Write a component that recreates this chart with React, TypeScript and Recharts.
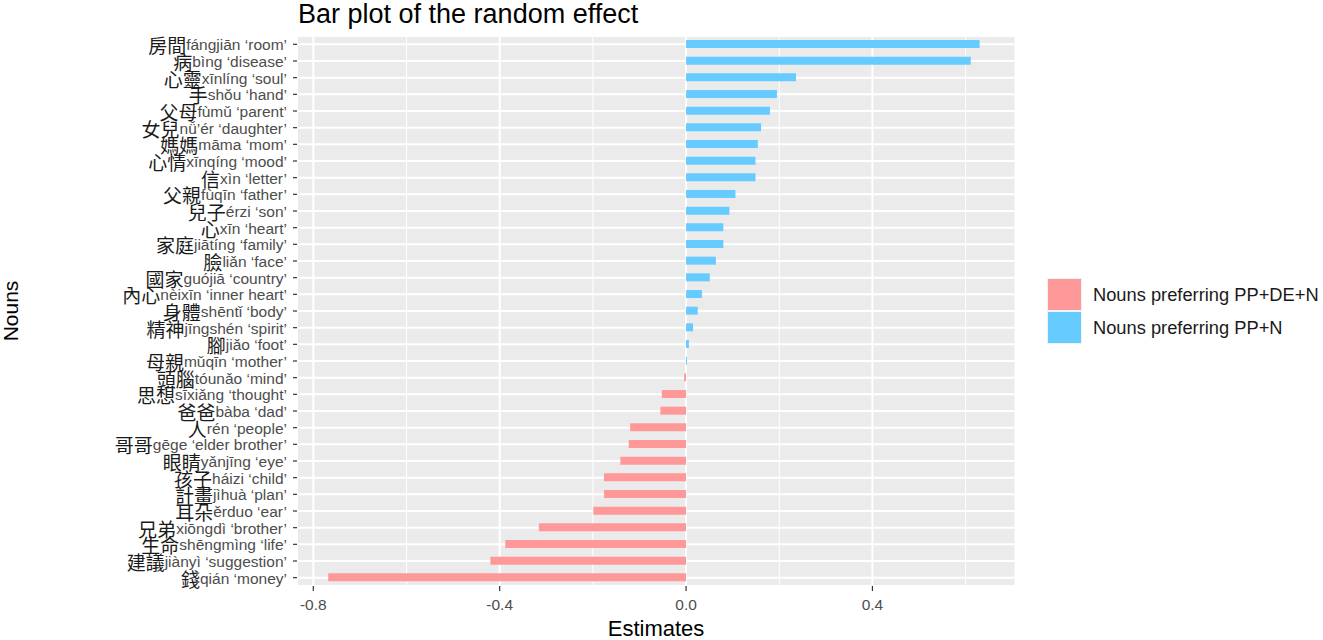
import React from 'react';
import { BarChart, Bar, XAxis, YAxis, CartesianGrid, Cell } from 'recharts';

// nouns from top to bottom
const hanzi = [
  '房間', '病', '心靈', '手', '父母', '女兒', '媽媽', '心情', '信', '父親', '兒子',
  '心', '家庭', '臉', '國家', '內心', '身體', '精神', '腳', '母親', '頭腦',
  '思想', '爸爸', '人', '哥哥', '眼睛', '孩子', '計畫', '耳朵', '兄弟', '生命', '建議', '錢',
];
const pinyin = [
  'fángjiān ‘room’', 'bìng ‘disease’', 'xīnlíng ‘soul’', 'shǒu ‘hand’', 'fùmǔ ‘parent’',
  'nǚ’ér ‘daughter’', 'māma ‘mom’', 'xīnqíng ‘mood’', 'xìn ‘letter’', 'fùqīn ‘father’',
  'érzi ‘son’', 'xīn ‘heart’', 'jiātíng ‘family’', 'liǎn ‘face’', 'guójiā ‘country’',
  'nèixīn ‘inner heart’', 'shēntǐ ‘body’', 'jīngshén ‘spirit’', 'jiǎo ‘foot’', 'mǔqīn ‘mother’',
  'tóunǎo ‘mind’', 'sīxiǎng ‘thought’', 'bàba ‘dad’', 'rén ‘people’', 'gēge ‘elder brother’',
  'yǎnjīng ‘eye’', 'háizi ‘child’', 'jìhuà ‘plan’', 'ěrduo ‘ear’', 'xiōngdì ‘brother’',
  'shēngmìng ‘life’', 'jiànyì ‘suggestion’', 'qián ‘money’',
];
const estimates = [
  0.630, 0.611, 0.236, 0.195, 0.180, 0.161, 0.154, 0.149, 0.149, 0.106, 0.093,
  0.080, 0.080, 0.064, 0.051, 0.034, 0.025, 0.015, 0.006, 0.002, -0.004,
  -0.052, -0.055, -0.120, -0.123, -0.141, -0.176, -0.176, -0.199, -0.316, -0.388, -0.420, -0.768,
];

const xTicks = [-0.8, -0.6, -0.4, -0.2, 0, 0.2, 0.4, 0.6];
const majorTicks = [-0.8, -0.4, 0, 0.4];

const legendLabels = ['Nouns preferring PP+DE+N', 'Nouns preferring PP+N'];

const RED = '#FF9999';
const BLUE = '#66CCFF';
const SANS = '"Liberation Sans", Arial, sans-serif';
const CJK = '"Noto Sans CJK TC", "Noto Sans CJK SC", sans-serif';

const data = pinyin.map((p, i) => ({ name: p, hanzi: hanzi[i], value: estimates[i] }));
const hanziByName: Record<string, string> = {};
data.forEach((d) => { hanziByName[d.name] = d.hanzi; });

function NounTick({ x, y, payload }: any) {
  return (
    <text x={x} y={y} textAnchor="end" dominantBaseline="central">
      <tspan fontFamily={CJK} fontSize={19} fill="#1a1a1a">{hanziByName[payload.value]}</tspan>
      <tspan fontFamily={SANS} fontSize={15.5} fill="#4d4d4d">{payload.value}</tspan>
    </text>
  );
}

function EstimateTick({ x, y, payload }: any) {
  const v = payload.value;
  if (!majorTicks.some((m) => Math.abs(m - v) < 1e-9)) return null;
  return (
    <g>
      <line x1={x} x2={x} y1={y - 6} y2={y - 1} stroke="#333" strokeWidth={1.2} />
      <text x={x} y={y + 18} textAnchor="middle" fontFamily={SANS} fontSize={15.5} fill="#4d4d4d">
        {v.toFixed(1)}
      </text>
    </g>
  );
}

function LegendBox() {
  const colors = [RED, BLUE];
  return (
    <div style={{ position: 'absolute', left: 1047, top: 278, fontFamily: SANS, fontSize: 18.3, color: '#1a1a1a', whiteSpace: 'nowrap' }}>
      {legendLabels.map((label, i) => (
        <div key={label} style={{ display: 'flex', alignItems: 'center', height: 33 }}>
          <div style={{ width: 33, height: 31, background: colors[i], border: '1px solid #f2f2f2', marginRight: 11 }} />
          <span>{label}</span>
        </div>
      ))}
    </div>
  );
}

export default function App() {
  return (
    <div style={{ position: 'absolute', left: 0, top: 0, width: 1323, height: 640, background: '#fff' }}>
      <div style={{ position: 'absolute', left: 298, top: 1, lineHeight: 1, fontFamily: SANS, fontSize: 27, color: '#000', whiteSpace: 'nowrap' }}>
        Bar plot of the random effect
      </div>
      <div style={{ position: 'absolute', left: 556, width: 200, textAlign: 'center', top: 616, fontFamily: SANS, fontSize: 22, color: '#000' }}>
        Estimates
      </div>
      <div
        style={{
          position: 'absolute', left: -4, top: 311, width: 30, height: 24, lineHeight: '24px', marginTop: -12,
          fontFamily: SANS, fontSize: 21, color: '#000', textAlign: 'center',
          display: 'flex', justifyContent: 'center', alignItems: 'center',
        }}
      >
        <span style={{ transform: 'rotate(-90deg)', display: 'inline-block' }}>Nouns</span>
      </div>
      <BarChart
        width={1323}
        height={640}
        data={data}
        layout="vertical"
        margin={{ top: 36, right: 308, bottom: 24, left: 7 }}
        barCategoryGap={0}
      >
        <CartesianGrid
          fill="#EBEBEB"
          stroke="#fff"
          horizontal={(p: any) => (
            <line key={p.key} x1={p.x1} x2={p.x2} y1={p.y1} y2={p.y2} stroke="#fff" strokeWidth={2} />
          )}
          vertical={(p: any) => (
            <line key={p.key} x1={p.x1} x2={p.x2} y1={p.y1} y2={p.y2} stroke="#fff" strokeWidth={p.index % 2 === 0 ? 2 : 1} />
          )}
        />
        <XAxis
          type="number"
          domain={[-0.835, 0.706]}
          ticks={xTicks}
          tick={<EstimateTick />}
          tickLine={false}
          axisLine={false}
          height={30}
          tickSize={4}
          tickMargin={2}
          interval={0}
        />
        <YAxis
          type="category"
          dataKey="name"
          width={290}
          tick={<NounTick />}
          tickLine={{ stroke: '#333', strokeWidth: 1.2 }}
          tickSize={4}
          tickMargin={6}
          axisLine={false}
          interval={0}
        />
        <Bar dataKey="value" barSize={8} isAnimationActive={false}>
          {data.map((d) => (
            <Cell key={d.name} fill={d.value < 0 ? RED : BLUE} />
          ))}
        </Bar>
      </BarChart>
      <LegendBox />
    </div>
  );
}
